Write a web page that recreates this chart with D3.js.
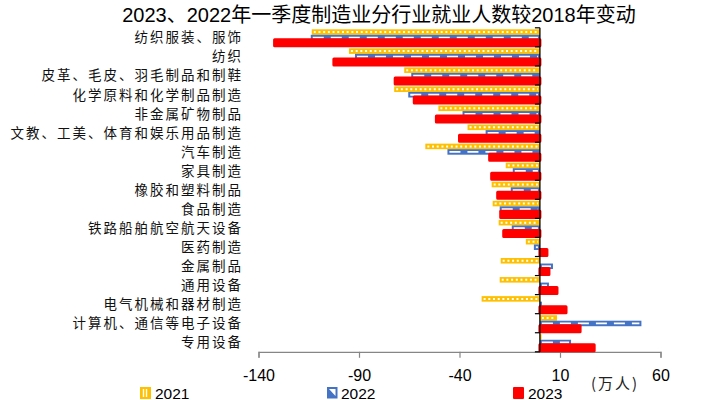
<!DOCTYPE html>
<html>
<head>
<meta charset="utf-8">
<script src="https://cdn.jsdelivr.net/npm/d3@7"></script>
<style>
  html, body { margin: 0; padding: 0; background: #fff; }
  svg { display: block; }
  text { font-family: "Liberation Sans", Arial, "Noto Sans CJK SC", sans-serif; }
  .cjk { font-family: "Noto Sans CJK SC", sans-serif; }
</style>
</head>
<body>
<svg id="chart" width="710" height="400"></svg>
<script>
// Industries, top to bottom
const categories = [
  "纺织服装、服饰", "纺织", "皮革、毛皮、羽毛制品和制鞋", "化学原料和化学制品制造",
  "非金属矿物制品", "文教、工美、体育和娱乐用品制造", "汽车制造", "家具制造",
  "橡胶和塑料制品", "食品制造", "铁路船舶航空航天设备", "医药制造", "金属制品",
  "通用设备", "电气机械和器材制造", "计算机、通信等电子设备", "专用设备"
];
// Change in employment vs 2018 (万人)
const v2021 = [-113.5, -95, -67.5, -72.5, -50.5, -36, -57, -17, -24, -23.5, -20.5, -7, -19.5, -20, -29, 8.5, 0.8];
const v2022 = [-114, -92, -64, -65.5, -38.5, -27, -46, -13.5, -14.5, -20, -14, -3, 6.5, 4.5, 1, 50.5, 15.5];
const v2023 = [-132, -102.5, -72, -62.5, -51.5, -40, -25, -24, -21, -19.5, -18, 3.5, 4.5, 8.5, 13, 20, 27];
const seriesNames = ["2021", "2022", "2023"];
const xTicks = [-140, -90, -40, 10, 60];
const titleText = "2023、2022年一季度制造业分行业就业人数较2018年变动";
const unitText = "(万人)";

const YELLOW = "#FFC000", BLUE = "#4472C4", RED = "#FF0000";

const svg = d3.select("#chart");

const x = d3.scaleLinear().domain([-140, 60]).range([258.5, 660.5]);
const y = d3.scaleBand().domain(categories).range([27.8, 351.8]).paddingInner(0).paddingOuter(0);
const ySub = d3.scaleBand().domain(seriesNames).range([1.5, y.bandwidth() - 1]);

const rows = categories.map((c, i) => ({ c, a: v2021[i], b: v2022[i], r: v2023[i] }));

// Title
svg.append("text")
  .attr("x", 379).attr("y", 22)
  .attr("text-anchor", "middle")
  .attr("font-size", 20)
  .attr("fill", "#000")
  .text(titleText);

// Bottom axis
const xAxis = svg.append("g")
  .attr("transform", `translate(0,${y.range()[1]})`)
  .call(d3.axisBottom(x).tickValues(xTicks).tickSize(6).tickPadding(12).tickFormat(d3.format("d")));
xAxis.select(".domain").attr("stroke", "#868686").attr("stroke-width", 1.2);
xAxis.selectAll(".tick line").attr("stroke", "#868686").attr("stroke-width", 1.2);
xAxis.selectAll(".tick text")
  .attr("font-size", 16)
  .attr("fill", "#000")
  .attr("font-family", "Liberation Sans, Arial, sans-serif")
  .text(d => d < 0 ? "-" + Math.abs(d) : String(d));

// Unit label
svg.append("text")
  .attr("class", "cjk")
  .attr("x", 591).attr("y", 389)
  .attr("font-size", 15)
  .attr("letter-spacing", 2)
  .attr("fill", "#222")
  .text(unitText);

// Category labels
svg.append("g").selectAll("text")
  .data(categories)
  .join("text")
  .attr("class", "cjk")
  .attr("x", 243)
  .attr("y", d => y(d) + y.bandwidth() / 2 + 5)
  .attr("text-anchor", "end")
  .attr("font-size", 13.5)
  .attr("letter-spacing", 2)
  .attr("fill", "#111")
  .text(d => d);

const bars = svg.append("g");

// 2021: yellow with white dotted core
const gA = bars.append("g");
gA.selectAll("rect").data(rows).join("rect")
  .attr("x", d => x(Math.min(0, d.a)))
  .attr("y", d => y(d.c) + ySub("2021"))
  .attr("width", d => Math.abs(x(d.a) - x(0)))
  .attr("height", ySub.bandwidth())
  .attr("fill", YELLOW);
gA.selectAll("line").data(rows.filter(d => Math.abs(x(d.a) - x(0)) > 4)).join("line")
  .attr("x1", d => x(Math.min(0, d.a)) + 2)
  .attr("x2", d => x(Math.max(0, d.a)) - 2)
  .attr("y1", d => y(d.c) + ySub("2021") + ySub.bandwidth() / 2)
  .attr("y2", d => y(d.c) + ySub("2021") + ySub.bandwidth() / 2)
  .attr("stroke", "#fff")
  .attr("stroke-width", 2)
  .attr("stroke-dasharray", "2 2.7");

// 2022: blue with white dashes
const gB = bars.append("g");
gB.selectAll("rect").data(rows).join("rect")
  .attr("x", d => x(Math.min(0, d.b)))
  .attr("y", d => y(d.c) + ySub("2022"))
  .attr("width", d => Math.abs(x(d.b) - x(0)))
  .attr("height", ySub.bandwidth())
  .attr("fill", BLUE);
gB.selectAll("line").data(rows.filter(d => Math.abs(x(d.b) - x(0)) > 4)).join("line")
  .attr("x1", d => x(Math.min(0, d.b)) + 2)
  .attr("x2", d => x(Math.max(0, d.b)) - 2)
  .attr("y1", d => y(d.c) + ySub("2022") + ySub.bandwidth() / 2)
  .attr("y2", d => y(d.c) + ySub("2022") + ySub.bandwidth() / 2)
  .attr("stroke", "#fff")
  .attr("stroke-width", 1.8)
  .attr("stroke-dasharray", "11 7");

// 2023: solid red, heavy rounded outline
bars.append("g").selectAll("rect").data(rows).join("rect")
  .attr("x", d => x(Math.min(0, d.r)))
  .attr("y", d => y(d.c) + ySub("2023") - 0.5)
  .attr("width", d => Math.abs(x(d.r) - x(0)))
  .attr("height", ySub.bandwidth() + 0.5)
  .attr("fill", RED)
  .attr("stroke", RED)
  .attr("stroke-width", 3)
  .attr("stroke-linejoin", "round");

// Category axis at zero, drawn over the bars
const yAxis = svg.append("g")
  .attr("transform", `translate(${x(0)},0)`);
yAxis.append("line")
  .attr("x1", 0).attr("x2", 0)
  .attr("y1", y.range()[0]).attr("y2", y.range()[1])
  .attr("stroke", "#000").attr("stroke-width", 1.3);
const bounds = categories.map(c => y(c)).concat([y.range()[1]]);
yAxis.selectAll("line.tk").data(bounds).join("line")
  .attr("class", "tk")
  .attr("x1", -5).attr("x2", 0)
  .attr("y1", d => d).attr("y2", d => d)
  .attr("stroke", "#000").attr("stroke-width", 1.2);

// Legend
const legend = svg.append("g");
const legendItems = [
  { name: "2021", mx: 140, tx: 155 },
  { name: "2022", mx: 327, tx: 341 },
  { name: "2023", mx: 513, tx: 528 }
];
legendItems.forEach(it => {
  const g = legend.append("g");
  if (it.name === "2021") {
    g.append("rect").attr("x", it.mx + 0.75).attr("y", 387.75).attr("width", 9.5).attr("height", 10.5)
      .attr("fill", YELLOW).attr("stroke", YELLOW).attr("stroke-width", 1.5);
    [3, 6].forEach(dx => g.append("line").attr("x1", it.mx + dx + 0.5).attr("x2", it.mx + dx + 0.5)
      .attr("y1", 389).attr("y2", 397).attr("stroke", "#fff").attr("stroke-width", 1.4));
  } else if (it.name === "2022") {
    g.append("rect").attr("x", it.mx).attr("y", 387).attr("width", 10.5).attr("height", 11.5).attr("fill", BLUE);
    g.append("path").attr("d", `M${it.mx + 2},${389} L${it.mx + 8.5},${389} L${it.mx + 8.5},${396} Z`).attr("fill", "#fff");
  } else {
    g.append("rect").attr("x", it.mx + 1).attr("y", 388).attr("width", 9).attr("height", 10)
      .attr("fill", RED).attr("stroke", RED).attr("stroke-width", 2).attr("stroke-linejoin", "round");
  }
  g.append("text").attr("x", it.tx).attr("y", 398.5)
    .attr("font-size", 15.5).attr("fill", "#000")
    .attr("font-family", "Liberation Sans, Arial, sans-serif")
    .text(it.name);
});
</script>
</body>
</html>
